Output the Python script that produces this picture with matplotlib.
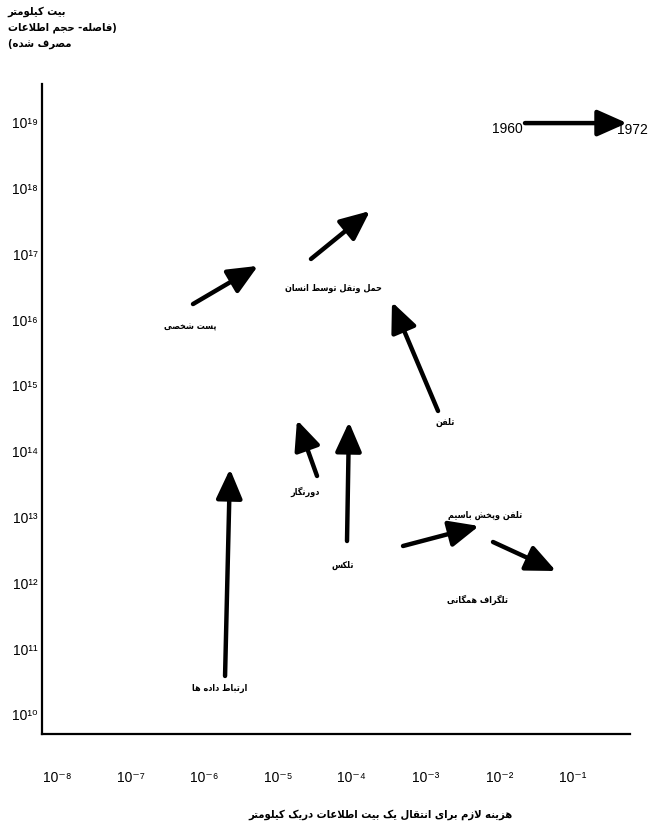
import numpy as np
import matplotlib
matplotlib.use('Agg')
import matplotlib.pyplot as plt
from matplotlib.patches import FancyArrowPatch

# DATOS (exponentes log10)
nombres = ['پست شخصی', 'حمل ونقل توسط انسان', 'تلفن', 'دورنگار', 'تلکس',
           'تلفن وپخش باسیم', 'تلگراف همگانی', 'ارتباط داده ها']
costo_ini = [-6.155, -4.554, -2.830, -4.472, -4.065, -3.305, -2.084, -5.720]
costo_fin = [-5.273, -3.753, -3.455, -4.744, -4.038, -2.274, -1.229, -5.653]
volumen_ini = [16.23, 16.915, 14.605, 13.617, 12.629, 12.553, 12.614, 10.578]
volumen_fin = [16.81, 17.644, 16.261, 14.468, 14.438, 12.857, 12.173, 13.723]
# donde va cada etiqueta
etiqueta_x = [-6.195, -4.255, -2.735, -4.635, -4.119, -2.193, -2.288, -5.788]
etiqueta_y = [15.897, 16.489, 14.453, 13.389, 12.280, 13.040, 11.748, 10.410]

anios = ['1960', '1972']
leyenda_x = [-1.650, -0.266]
leyenda_y = [18.98, 18.98]

xtick_exp = [-8, -7, -6, -5, -4, -3, -2, -1]
ytick_exp = [19, 18, 17, 16, 15, 14, 13, 12, 11, 10]

titulo_y = ['بیت کیلومتر', '(فاصله- حجم اطلاعات', 'مصرف شده)']
titulo_x = 'هزینه لازم برای انتقال یک بیت اطلاعات دریک کیلومتر'

# formas de presentacion: aislada, final, inicial, medial
FORMAS = {
    'ا': (0xFE8D, 0xFE8E), 'آ': (0xFE81, 0xFE82),
    'ب': (0xFE8F, 0xFE90, 0xFE91, 0xFE92), 'پ': (0xFB56, 0xFB57, 0xFB58, 0xFB59),
    'ت': (0xFE95, 0xFE96, 0xFE97, 0xFE98), 'ث': (0xFE99, 0xFE9A, 0xFE9B, 0xFE9C),
    'ج': (0xFE9D, 0xFE9E, 0xFE9F, 0xFEA0), 'چ': (0xFB7A, 0xFB7B, 0xFB7C, 0xFB7D),
    'ح': (0xFEA1, 0xFEA2, 0xFEA3, 0xFEA4), 'خ': (0xFEA5, 0xFEA6, 0xFEA7, 0xFEA8),
    'د': (0xFEA9, 0xFEAA), 'ذ': (0xFEAB, 0xFEAC), 'ر': (0xFEAD, 0xFEAE),
    'ز': (0xFEAF, 0xFEB0), 'ژ': (0xFB8A, 0xFB8B),
    'س': (0xFEB1, 0xFEB2, 0xFEB3, 0xFEB4), 'ش': (0xFEB5, 0xFEB6, 0xFEB7, 0xFEB8),
    'ص': (0xFEB9, 0xFEBA, 0xFEBB, 0xFEBC), 'ض': (0xFEBD, 0xFEBE, 0xFEBF, 0xFEC0),
    'ط': (0xFEC1, 0xFEC2, 0xFEC3, 0xFEC4), 'ظ': (0xFEC5, 0xFEC6, 0xFEC7, 0xFEC8),
    'ع': (0xFEC9, 0xFECA, 0xFECB, 0xFECC), 'غ': (0xFECD, 0xFECE, 0xFECF, 0xFED0),
    'ف': (0xFED1, 0xFED2, 0xFED3, 0xFED4), 'ق': (0xFED5, 0xFED6, 0xFED7, 0xFED8),
    'ک': (0xFB8E, 0xFB8F, 0xFB90, 0xFB91), 'گ': (0xFB92, 0xFB93, 0xFB94, 0xFB95),
    'ل': (0xFEDD, 0xFEDE, 0xFEDF, 0xFEE0), 'م': (0xFEE1, 0xFEE2, 0xFEE3, 0xFEE4),
    'ن': (0xFEE5, 0xFEE6, 0xFEE7, 0xFEE8), 'ه': (0xFEE9, 0xFEEA, 0xFEEB, 0xFEEC),
    'و': (0xFEED, 0xFEEE), 'ی': (0xFBFC, 0xFBFD, 0xFBFE, 0xFBFF),
    'لا': (0xFEFB, 0xFEFC), 'لآ': (0xFEF5, 0xFEF6),
}
ESPEJO = {'(': ')', ')': '('}


def persa(s):
    # une las letras y da vuelta el orden para dibujar de derecha a izquierda
    tok = []
    i = 0
    while i < len(s):
        if s[i] == 'ل' and i + 1 < len(s) and s[i + 1] in 'اآ':
            tok.append(s[i:i + 2])
            i += 2
        else:
            tok.append(s[i])
            i += 1
    out = []
    for k, t in enumerate(tok):
        if t not in FORMAS:
            out.append(ESPEJO.get(t, t))
            continue
        f = FORMAS[t]
        prev = tok[k - 1] if k > 0 else None
        nxt = tok[k + 1] if k + 1 < len(tok) else None
        une_prev = prev in FORMAS and len(FORMAS[prev]) == 4
        une_sig = len(f) == 4 and nxt in FORMAS
        if une_prev and une_sig:
            c = f[3]
        elif une_prev:
            c = f[1]
        elif une_sig:
            c = f[2]
        else:
            c = f[0]
        out.append(chr(c))
    return ''.join(out[::-1])


SUP = str.maketrans('-0123456789', '⁻⁰¹²³⁴⁵⁶⁷⁸⁹')

fig = plt.figure(figsize=(6.55, 8.29), dpi=100)
ax = fig.add_axes([42 / 655, 1 - 735 / 829, 588 / 655, 650 / 829])
ax.set_xscale('log')
ax.set_yscale('log')
ax.set_xlim(10 ** -8.204, 10 ** -0.225)
ax.set_ylim(10 ** 9.696, 10 ** 19.574)

for s in ['top', 'right']:
    ax.spines[s].set_visible(False)
for s in ['left', 'bottom']:
    ax.spines[s].set_linewidth(1.6)
    ax.spines[s].set_color('black')

num = ['Liberation Sans', 'DejaVu Sans']
ax.minorticks_off()
ax.set_xticks([10.0 ** e for e in xtick_exp])
ax.set_xticklabels(['10' + str(e).translate(SUP) for e in xtick_exp], family=num, fontsize=10)
ax.set_yticks([10.0 ** e for e in ytick_exp])
ax.set_yticklabels(['10' + str(e).translate(SUP) for e in ytick_exp], family=num, fontsize=10)
ax.tick_params(axis='x', length=0, pad=26)
ax.tick_params(axis='y', length=0, pad=3)

estilo = '-|>,head_length=0.9,head_width=0.4'
for i in range(len(nombres)):
    a = FancyArrowPatch((10 ** costo_ini[i], 10 ** volumen_ini[i]),
                        (10 ** costo_fin[i], 10 ** volumen_fin[i]),
                        arrowstyle=estilo, mutation_scale=20, lw=3.2,
                        color='black', shrinkA=0, shrinkB=0)
    ax.add_patch(a)
    ax.text(10 ** etiqueta_x[i], 10 ** etiqueta_y[i], persa(nombres[i]),
            ha='center', va='center', fontsize=6.5, fontweight='bold',
            fontstretch='condensed', family='DejaVu Sans')

a = FancyArrowPatch((10 ** leyenda_x[0], 10 ** leyenda_y[0]),
                    (10 ** leyenda_x[1], 10 ** leyenda_y[1]),
                    arrowstyle=estilo, mutation_scale=20, lw=3.2,
                    color='black', shrinkA=0, shrinkB=0, clip_on=False)
ax.add_patch(a)
ax.text(10 ** (leyenda_x[0] - 0.03), 10 ** (leyenda_y[0] - 0.07), anios[0],
        ha='right', va='center', fontsize=10, family=num)
ax.text(10 ** (leyenda_x[1] - 0.14), 10 ** (leyenda_y[1] - 0.09), anios[1],
        ha='left', va='center', fontsize=10, family=num, clip_on=False)

# titulos de los ejes
for k, t in enumerate(titulo_y):
    fig.text(0.012, 1 - (12 + 16 * k) / 829, persa(t), ha='left', va='center',
             fontsize=8, fontweight='bold', fontstretch='condensed',
             family='DejaVu Sans')
fig.text(380 / 655, 1 - 815 / 829, persa(titulo_x), ha='center', va='center',
         fontsize=8, fontweight='bold', fontstretch='condensed',
         family='DejaVu Sans')

fig.savefig('out.png', dpi=100)
